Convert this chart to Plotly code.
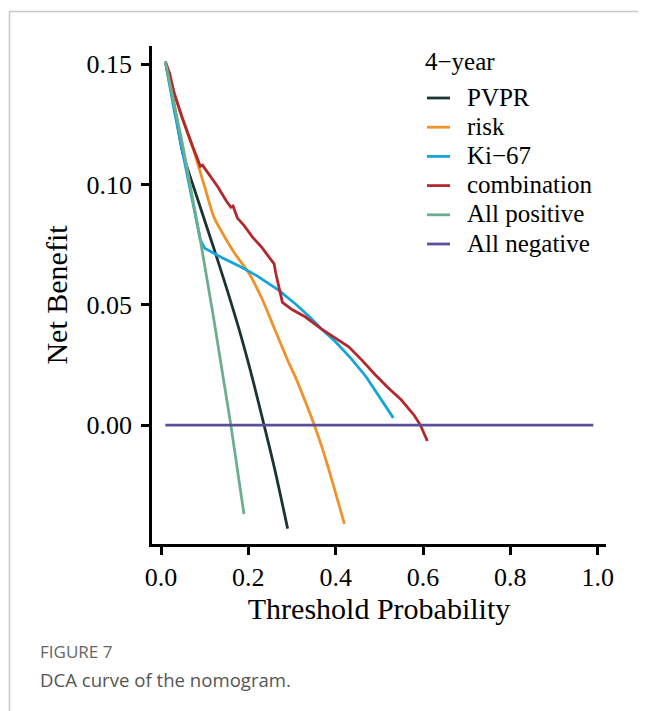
import plotly.graph_objects as go

# ---- data ----
pvpr_t = [0.01, 0.03, 0.05, 0.08, 0.12, 0.15, 0.18, 0.21, 0.236, 0.26, 0.29]
pvpr_nb = [0.151, 0.133, 0.113, 0.096, 0.074, 0.057, 0.039, 0.019, 0.0, -0.018, -0.043]

risk_t = [0.01, 0.03, 0.048, 0.075, 0.10, 0.121, 0.14, 0.17, 0.20, 0.23, 0.26, 0.29, 0.31, 0.33, 0.351, 0.37, 0.39, 0.42]
risk_nb = [0.151, 0.138, 0.128, 0.114, 0.099, 0.0865, 0.080, 0.071, 0.0635, 0.053, 0.040, 0.027, 0.019, 0.010, 0.0, -0.010, -0.022, -0.041]

ki67_t = [0.01, 0.03, 0.05, 0.07, 0.09, 0.10, 0.14, 0.18, 0.22, 0.27, 0.31, 0.34, 0.367, 0.40, 0.436, 0.47, 0.50, 0.532]
ki67_nb = [0.151, 0.131, 0.113, 0.095, 0.077, 0.0735, 0.0695, 0.066, 0.062, 0.056, 0.050, 0.045, 0.040, 0.0345, 0.0275, 0.020, 0.012, 0.003]

comb_t = [0.01, 0.02, 0.03, 0.048, 0.07, 0.085, 0.09, 0.095, 0.11, 0.13, 0.15, 0.16, 0.165, 0.175, 0.19,
          0.21, 0.23, 0.259, 0.263, 0.278, 0.30, 0.33, 0.367, 0.40, 0.43, 0.46, 0.49, 0.52, 0.55, 0.58, 0.594, 0.61]
comb_nb = [0.151, 0.146, 0.138, 0.128, 0.117, 0.110, 0.1075, 0.108, 0.104, 0.099, 0.093, 0.0905, 0.091, 0.086, 0.083,
           0.078, 0.074, 0.067, 0.063, 0.051, 0.048, 0.045, 0.040, 0.036, 0.0325, 0.027, 0.021, 0.0155, 0.0105, 0.004, 0.0, -0.0066]

allpos_t = [0.01, 0.05, 0.09, 0.12, 0.16, 0.19]
allpos_nb = [0.151, 0.116, 0.077, 0.045, 0.0, -0.037]

allneg_t = [0.01, 0.99]
allneg_nb = [0.0, 0.0]

legend_title = "4\u2212year"
series_names = ["PVPR", "risk", "Ki\u221267", "combination", "All positive", "All negative"]
series_colors = ["#1b3333", "#f0922b", "#14a5dc", "#b3282d", "#6cae8f", "#5b4f9d"]
series_shapes = ["spline", "spline", "linear", "linear", "linear", "linear"]
series_x = [pvpr_t, risk_t, ki67_t, comb_t, allpos_t, allneg_t]
series_y = [pvpr_nb, risk_nb, ki67_nb, comb_nb, allpos_nb, allneg_nb]

x_ticks = [0.0, 0.2, 0.4, 0.6, 0.8, 1.0]
x_ticklabels = ["0.0", "0.2", "0.4", "0.6", "0.8", "1.0"]
y_ticks = [0.0, 0.05, 0.10, 0.15]
y_ticklabels = ["0.00", "0.05", "0.10", "0.15"]

SERIF = "Liberation Serif, Times New Roman, serif"
SANS = "Open Sans, Noto Sans, sans-serif"

fig = go.Figure()
for name, col, shp, xs, ys in zip(series_names, series_colors, series_shapes, series_x, series_y):
    fig.add_trace(go.Scatter(x=xs, y=ys, mode="lines", name=name, showlegend=False,
                             line=dict(color=col, width=2.8, shape=shp, smoothing=0.7)))

# page has an 8px body margin; figure px = reference px - 8
OFF = 8
W, H = 646 - OFF, 711 - OFF
L, T = 152 - OFF, 46 - OFF
R = W - (606 - OFF)
B = H - (544 - OFF)
pw, ph = W - L - R, H - T - B

def px2paper_x(px):
    return (px - OFF - L) / pw

def px2paper_y(py):
    return (H - B - (py - OFF)) / ph

fig.update_layout(
    width=W, height=H,
    margin=dict(l=L, r=R, t=T, b=B, pad=0),
    paper_bgcolor="white", plot_bgcolor="white",
    showlegend=False,
    xaxis=dict(
        range=[-0.0206, 1.019], tickvals=x_ticks, ticktext=x_ticklabels,
        showgrid=False, zeroline=False, showline=True, linecolor="black", linewidth=2.7,
        ticks="outside", ticklen=8, tickwidth=2.7, tickcolor="black",
        tickfont=dict(family=SERIF, size=26, color="black"),
        title=dict(text="Threshold Probability", font=dict(family=SERIF, size=30, color="black"), standoff=6),
    ),
    yaxis=dict(
        range=[-0.0494, 0.1575], tickvals=y_ticks, ticktext=y_ticklabels,
        showgrid=False, zeroline=False, showline=True, linecolor="black", linewidth=2.7,
        ticks="outside", ticklen=8, tickwidth=2.7, tickcolor="black",
        tickfont=dict(family=SERIF, size=26, color="black"),
        ticklabelstandoff=4,
        title=dict(text="Net Benefit", font=dict(family=SERIF, size=30, color="black"), standoff=10),
    ),
)

# legend drawn by hand to match the reference spacing
fig.add_annotation(text=legend_title, xref="paper", yref="paper",
                   x=px2paper_x(423), y=px2paper_y(62), xanchor="left", yanchor="middle",
                   showarrow=False, font=dict(family=SERIF, size=25, color="black"))
for i, (name, col) in enumerate(zip(series_names, series_colors)):
    yc = 98 + i * 29.2
    fig.add_shape(type="line", xref="paper", yref="paper",
                  x0=px2paper_x(427), x1=px2paper_x(450), y0=px2paper_y(yc), y1=px2paper_y(yc),
                  line=dict(color=col, width=2.8))
    fig.add_annotation(text=name, xref="paper", yref="paper",
                       x=px2paper_x(465), y=px2paper_y(yc - 1), xanchor="left", yanchor="middle",
                       showarrow=False, font=dict(family=SERIF, size=25, color="black"))

# page frame (gray lines at top and left)
fig.add_shape(type="line", xref="paper", yref="paper",
              x0=px2paper_x(9.5), x1=px2paper_x(646), y0=px2paper_y(11.5), y1=px2paper_y(11.5),
              line=dict(color="#c8c8c8", width=1.5))
fig.add_shape(type="line", xref="paper", yref="paper",
              x0=px2paper_x(9.5), x1=px2paper_x(9.5), y0=px2paper_y(11.5), y1=px2paper_y(711),
              line=dict(color="#c8c8c8", width=1.5))

# caption
fig.add_annotation(text="FIGURE 7", xref="paper", yref="paper",
                   x=px2paper_x(38), y=px2paper_y(651), xanchor="left", yanchor="middle",
                   showarrow=False, font=dict(family=SANS, size=17, color="#666666"))
fig.add_annotation(text="DCA curve of the nomogram.", xref="paper", yref="paper",
                   x=px2paper_x(38), y=px2paper_y(679), xanchor="left", yanchor="middle",
                   showarrow=False, font=dict(family=SANS, size=18.6, color="#555555"))

fig.write_html("out.html")
